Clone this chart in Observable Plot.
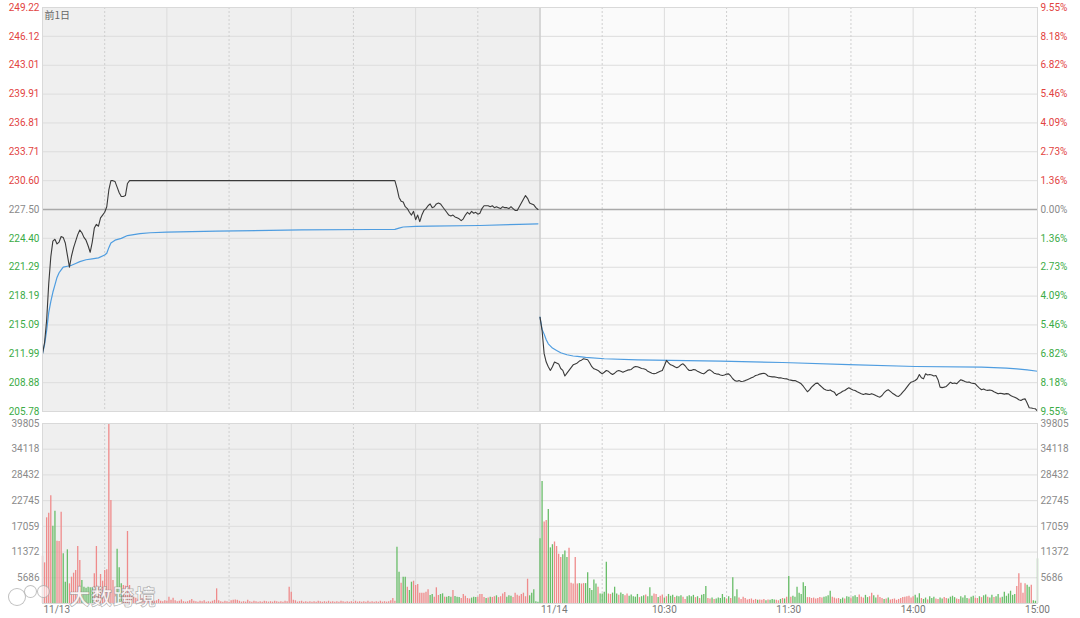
<!DOCTYPE html>
<html><head><meta charset="utf-8">
<script src="https://cdn.jsdelivr.net/npm/d3@7"></script>
<script src="https://cdn.jsdelivr.net/npm/@observablehq/plot@0.6"></script>
<style>
body{margin:0;background:#fff;}
#wrap{position:relative;width:1080px;height:618px;font-family:Roboto,"Noto Sans",sans-serif;overflow:hidden}
#wrap svg{position:absolute;left:0;overflow:visible;background:transparent}
#wm{position:absolute;left:69px;top:580px;font-family:"Noto Sans CJK SC",sans-serif;font-size:21px;font-weight:bold;color:rgba(255,255,255,0.85);-webkit-text-stroke:0.7px rgba(110,110,110,0.55);letter-spacing:1px}
.ring{position:absolute;border:1.5px solid rgba(140,140,140,0.55);border-radius:50%;background:rgba(255,255,255,0.5)}
</style></head><body><div id="wrap"></div>
<script>
// ---------- axis ticks ----------
const prevClose = 227.50;
const priceTicks = [205.78, 208.88, 211.99, 215.09, 218.19, 221.29, 224.40, 227.50, 230.60, 233.71, 236.81, 239.91, 243.01, 246.12, 249.22];
const pctLabels = ["9.55%","8.18%","6.82%","5.46%","4.09%","2.73%","1.36%","0.00%","1.36%","2.73%","4.09%","5.46%","6.82%","8.18%","9.55%"];
const volTicks = [5686, 11372, 17059, 22745, 28432, 34118, 39805];
const dateTicks = [0, 240];
const dateLabels = ["11/13", "11/14"];
const timeTicks = [300, 360, 420, 480];
const timeLabels = ["10:30", "11:30", "14:00", "15:00"];
const gridHour = [60, 120, 180, 300, 360, 420];
const gridHalf = [30, 90, 150, 210, 270, 330, 390, 450];
const dayBreak = [240];
const prevDaySpan = [0, 240];

// ---------- price line: [minute, price] (day 1 = 0..239, day 2 = 240..480) ----------
const day1Price = [[0,211.99],[1,213.2],[2,215.6],[3,219.5],[4,222.4],[5,224.1],[6,224.3],[7,223.8],[8,224.0],[9,224.6],
[10,224.5],[11,223.9],[12,222.6],[13,221.3],[14,222.5],[15,223.4],[16,224.1],[17,224.8],[18,225.3],[19,225.0],
[20,224.5],[21,224.2],[22,223.6],[23,222.9],[24,224.0],[25,225.5],[26,225.9],[27,225.7],[28,226.6],[29,226.9],
[30,227.2],[31,227.8],[32,229.6],[33,230.6],[34,230.6],[35,230.5],[36,229.9],[37,229.3],[38,228.9],[39,228.9],
[40,229.0],[41,230.3],[42,230.6],[170,230.6],[171,229.8],[172,228.8],[173,228.4],[174,228.3],[175,227.8],[176,227.6],
[177,227.2],[178,226.9],[179,227.3],[180,226.4],[181,226.9],[182,226.2],[183,226.9],[184,227.4],[185,227.6],[186,227.9],
[187,228.1],[188,227.7],[189,227.8],[190,228.1],[191,228.2],[192,228.1],[193,227.8],[194,227.5],[195,227.2],[196,226.9],
[197,226.8],[198,226.9],[199,226.7],[200,226.6],[201,226.5],[202,226.3],[203,226.5],[204,226.9],[205,227.2],[206,227.0],
[207,227.3],[208,227.1],[209,227.2],[210,227.0],[211,227.1],[212,227.6],[213,227.9],[214,227.9],[215,227.9],[216,227.8],
[217,227.9],[218,227.7],[219,227.8],[220,227.7],[221,227.6],[222,227.8],[223,227.7],[224,227.7],[225,227.6],[226,227.8],
[227,227.6],[228,227.4],[229,227.4],[230,227.8],[231,228.2],[232,228.6],[233,229.0],[234,228.7],[235,228.2],[236,228.1],
[237,228.0],[238,227.7],[239,227.5]];
const day2Price = [[240,215.92],[241,214.5],[242,212.0],[243,211.1],[244,210.6],[245,210.2],[246,210.6],[247,211.1],[248,211.0],[249,210.9],
[250,210.4],[251,210.2],[252,209.6],[253,209.9],[254,210.2],[255,210.5],[256,210.8],[257,210.9],[258,211.0],[259,211.2],
[260,211.3],[261,211.45],[262,211.4],[263,211.34],[264,211.0],[265,210.6],[266,210.37],[267,210.3],[268,210.2],[269,210.0],
[270,209.83],[271,210.0],[272,210.19],[273,210.1],[274,209.9],[275,209.76],[276,209.9],[277,210.1],[278,210.19],[279,210.1],
[280,210.01],[281,210.1],[282,210.2],[283,210.26],[284,210.3],[285,210.5],[286,210.62],[287,210.6],[288,210.5],[289,210.4],
[290,210.37],[291,210.3],[292,210.1],[293,210.0],[294,209.9],[295,209.83],[296,209.9],[297,210.0],[298,210.1],[299,210.19],
[300,210.7],[301,211.27],[302,211.0],[303,210.8],[304,210.73],[305,210.6],[306,210.48],[307,210.6],[308,210.8],[309,210.91],
[310,210.7],[311,210.4],[312,210.19],[313,210.2],[314,210.3],[315,210.26],[316,210.1],[317,210.0],[318,209.9],[319,209.83],
[320,210.0],[321,210.2],[322,210.26],[323,210.1],[324,209.9],[325,209.83],[326,209.8],[327,209.7],[328,209.65],[329,209.7],
[330,209.8],[331,209.83],[332,209.6],[333,209.3],[334,209.1],[335,209.04],[336,209.1],[337,209.0],[338,209.04],[339,209.1],
[340,209.2],[341,209.29],[342,209.4],[343,209.5],[344,209.65],[345,209.7],[346,209.8],[347,209.85],[348,209.9],[349,209.8],
[350,209.6],[351,209.55],[352,209.5],[353,209.5],[354,209.47],[355,209.4],[356,209.41],[357,209.35],[358,209.3],[359,209.29],
[360,209.2],[361,209.15],[362,209.1],[363,209.12],[364,209.0],[365,208.9],[366,208.76],[367,208.5],[368,208.2],[369,207.9],
[370,208.1],[371,208.4],[372,208.6],[373,208.8],[374,208.83],[375,208.6],[376,208.4],[377,208.2],[378,208.1],[379,208.04],
[380,208.1],[381,207.95],[382,207.86],[383,207.5],[384,207.7],[385,207.8],[386,207.95],[387,208.04],[388,208.2],[389,208.33],
[390,208.2],[391,208.1],[392,208.04],[393,207.9],[394,207.8],[395,207.7],[396,207.61],[397,207.7],[398,207.65],[399,207.6],
[400,207.7],[401,207.61],[402,207.5],[403,207.4],[404,207.32],[405,207.5],[406,207.8],[407,208.0],[408,208.12],[409,207.95],
[410,207.75],[411,207.6],[412,207.45],[413,207.4],[414,207.6],[415,207.86],[416,208.1],[417,208.4],[418,208.7],[419,208.93],
[420,209.0],[421,209.11],[422,209.3],[423,209.76],[424,209.4],[425,209.29],[426,209.83],[427,209.7],[428,209.75],[429,209.7],
[430,209.6],[431,209.65],[432,209.2],[433,208.4],[434,208.35],[435,208.4],[436,208.47],[437,208.7],[438,208.93],[439,208.8],
[440,208.85],[441,208.76],[442,209.0],[443,209.19],[444,209.1],[445,209.0],[446,208.93],[447,208.95],[448,208.85],[449,208.8],
[450,208.76],[451,208.5],[452,208.3],[453,208.12],[454,208.2],[455,208.1],[456,208.05],[457,208.1],[458,208.04],[459,207.9],
[460,207.8],[461,207.68],[462,207.75],[463,207.7],[464,207.65],[465,207.7],[466,207.68],[467,207.5],[468,207.4],[469,207.32],
[470,207.2],[471,207.05],[472,206.96],[473,207.1],[474,207.14],[475,206.7],[476,206.18],[477,206.15],[478,206.1],[479,206.07],[480,205.81]];

// ---------- average price line: [minute, price] ----------
const day1Avg = [[0,211.99],[1,213.0],[2,214.5],[3,216.4],[4,217.6],[5,218.6],[6,219.4],[7,220.2],[8,220.7],[9,221.0],[10,221.3],
[12,221.4],[14,221.5],[16,221.7],[18,221.9],[21,222.1],[24,222.2],[27,222.3],[30,222.6],[31,222.8],[32,223.4],[33,223.9],
[35,224.2],[38,224.4],[41,224.7],[44,224.8],[47,224.9],[52,225.0],[60,225.06],[84,225.17],[125,225.3],[160,225.35],[170,225.36],
[172,225.5],[174,225.62],[180,225.68],[187,225.71],[211,225.78],[230,225.9],[239,225.96]];
const day2Avg = [[240,215.92],[241,214.6],[242,214.1],[243,213.5],[244,213.06],[246,212.6],[248,212.34],[250,212.1],[253,211.88],
[256,211.75],[258,211.7],[262,211.6],[271,211.45],[287,211.34],[303,211.27],[327,211.19],[357,211.05],[389,210.83],[421,210.62],
[453,210.55],[465,210.45],[470,210.37],[475,210.25],[480,210.11]];

// ---------- volume per minute (sign = bar colour: + up/red, - down/green) ----------
const day1Vol = [10460,8990,18950,19970,23810,-17090,-20410,13780,13710,20190,
-10990,-4710,-11870,4350,5820,6700,7300,12600,9510,-5090,
-3600,-3390,-3600,-3470,-3470,6570,12600,3600,6410,4930,
7300,7450,39805,22770,5090,3600,-12010,-7890,-4350,3980,
3830,15920,3980,2140,1400,1170,950,1770,1100,900,
1770,800,600,700,500,600,900,500,400,600,
500,1400,700,1170,600,400,500,800,400,300,
400,600,900,500,400,300,500,400,600,300,
400,300,500,700,3240,600,400,300,500,400,
300,600,700,800,700,500,300,400,300,700,
400,300,500,400,300,400,300,500,400,300,
400,300,500,400,300,400,300,500,400,3600,
2500,700,600,300,400,500,300,400,300,400,
300,400,300,500,400,300,400,300,500,300,
400,300,400,300,500,400,300,400,300,400,
300,500,300,400,300,400,300,500,300,400,
300,400,300,500,300,400,300,400,600,1100,
500,-12450,-6920,4490,-5820,-5820,3600,-2870,-4710,4930,
3980,4200,2280,2280,2280,2500,3030,-1770,-1990,1400,
3470,1770,-1990,-2140,1400,-1400,-1550,-1400,2870,-1550,
-1400,-1300,1100,1990,1600,1100,1000,-1200,-1400,-1300,
1400,1990,1990,1300,-1100,1200,-1400,1300,1500,-1700,
1300,1500,2100,2430,-1400,-1700,-1600,1300,2280,1800,
1600,2000,2280,1500,5370,-1700,-2280,-3030,-400,-300];
const day2Vol = [-14300,-26970,18000,18330,-20780,-12300,-13000,13600,12600,10900,
10200,-10800,-11600,-10200,12200,4500,4300,10200,4300,-4400,
4300,4400,-4400,-6800,-3300,-2870,-5200,-4300,3600,-2100,
-2100,-2500,-9100,2100,2000,-2300,-3600,-2100,1800,-2300,
-2000,1700,2100,-1600,-1900,-1500,-1400,-2000,1300,-1500,
-1700,1900,-1500,-3470,-1600,2100,2000,-1300,1600,1900,
-1200,1500,-2000,-1600,-1800,1300,-1600,-1500,-1700,1400,
900,-1500,-1700,-1500,-1800,1300,-1500,1100,-1800,-2000,
-3760,1100,1000,-1200,900,-1000,-1200,-1100,-1990,-1300,
1000,-1500,1100,-5680,-1500,-3030,1200,900,1400,1100,
800,900,1000,700,900,-700,800,700,900,-600,
800,-700,-900,-800,700,600,-900,1100,-1000,1400,
-5970,1400,-1600,-1400,-3600,-2280,-2000,-4570,-3760,1300,
1300,1100,1200,1000,1100,1300,1200,-1400,-1500,-1700,
-2720,1400,1200,1000,1100,-900,-1200,1000,-1500,-1400,
1200,-1500,-1700,-1300,1900,1400,1200,-1800,-1300,1500,
2280,-1700,-1200,1800,1300,1100,-900,1000,-1200,800,
900,1000,700,900,1100,1300,1400,1500,1600,1200,
1500,-1800,-1200,-2140,1100,-900,-1200,800,-1500,-1100,
-1400,1000,900,-1200,-1000,1300,1100,-1000,-1400,-1600,
-1300,1000,900,-1500,-1200,-1700,-1100,1000,-1400,-1600,
1200,1100,-1500,1300,-1700,-1900,1400,-1200,-1800,1300,
-1500,-2000,1200,-1400,-2500,-1600,-2100,-2720,-1800,-2000,
3760,6560,4490,2280,4350,-4050,-3600,4050,-600,-500,-9880];

// ---------- build ----------
const RED = "#e2433f", GREEN = "#3bab46", GREY = "#8a8a8a";
const BAR_UP = "#ef8b8b", BAR_DN = "#68bd68";
const W = 1080, ML = 42, MR = 43;
const sideColor = v => Math.abs(v - prevClose) < 1e-9 ? GREY : (v > prevClose ? RED : GREEN);

const priceRows = [...day1Price.map(([m,v]) => ({m, v, day: 1})), ...day2Price.map(([m,v]) => ({m, v, day: 2}))];
const avgRows = [...day1Avg.map(([m,v]) => ({m, v, day: 1})), ...day2Avg.map(([m,v]) => ({m, v, day: 2}))];
const volRows = [...day1Vol.map((s,i) => ({m: i, v: Math.abs(s), up: s > 0})), ...day2Vol.map((s,i) => ({m: 240 + i, v: Math.abs(s), up: s > 0}))];
const priceLabelRows = priceTicks.map((v,i) => ({v, pct: pctLabels[i]}));
const dateRows = dateTicks.map((m,i) => ({m, label: dateLabels[i]}));
const timeRows = timeTicks.map((m,i) => ({m, label: timeLabels[i]}));
const pLo = priceTicks[0], pHi = priceTicks[priceTicks.length - 1];
const vHi = volTicks[volTicks.length - 1];

const pricePlot = Plot.plot({
  width: W, height: 416, marginLeft: ML, marginRight: MR, marginTop: 7, marginBottom: 5,
  style: {background: "transparent", fontFamily: "Roboto, sans-serif"},
  x: {domain: [0, 480], axis: null},
  y: {domain: [pLo, pHi], axis: null},
  marks: [
    Plot.frame({fill: "#fafafa", stroke: null}),
    Plot.rect([prevDaySpan], {x1: d => d[0], x2: d => d[1], y1: () => pLo, y2: () => pHi, fill: "#efefef"}),
    Plot.ruleY(priceTicks, {stroke: "#dddddd", strokeWidth: 1}),
    Plot.ruleX(gridHour, {stroke: "#dcdcdc", strokeWidth: 1}),
    Plot.ruleX(gridHalf, {stroke: "#cfcfcf", strokeWidth: 1, strokeDasharray: "2,2"}),
    Plot.ruleX(dayBreak, {stroke: "#cfcfcf", strokeWidth: 1.6}),
    Plot.ruleY([prevClose], {stroke: "#a9a9a9", strokeWidth: 1.6}),
    Plot.line(avgRows, {x: "m", y: "v", z: "day", stroke: "#4f9de0", strokeWidth: 1.2}),
    Plot.line(priceRows, {x: "m", y: "v", z: "day", stroke: "#3a3a3a", strokeWidth: 1.1}),
    Plot.frame({stroke: "#d9d9d9"}),
    Plot.text(priceLabelRows, {y: "v", text: d => d.v.toFixed(2), frameAnchor: "left", dx: -3, textAnchor: "end", fill: d => sideColor(d.v), fontSize: 10}),
    Plot.text(priceLabelRows, {y: "v", text: "pct", frameAnchor: "right", dx: 3, textAnchor: "start", fill: d => sideColor(d.v), fontSize: 10}),
    Plot.text(["前1日"], {frameAnchor: "top-left", dx: 2, dy: 4, fill: "#666", fontSize: 10, fontFamily: "Noto Sans CJK SC, sans-serif"})
  ]
});

const volPlot = Plot.plot({
  width: W, height: 202, marginLeft: ML, marginRight: MR, marginTop: 7, marginBottom: 15,
  style: {background: "transparent", fontFamily: "Roboto, sans-serif"},
  x: {domain: [0, 480], axis: null},
  y: {domain: [0, vHi], axis: null},
  marks: [
    Plot.frame({fill: "#fafafa", stroke: null}),
    Plot.rect([prevDaySpan], {x1: d => d[0], x2: d => d[1], y1: () => 0, y2: () => vHi, fill: "#efefef"}),
    Plot.ruleY(volTicks, {stroke: "#dddddd", strokeWidth: 1}),
    Plot.ruleX(gridHour, {stroke: "#dcdcdc", strokeWidth: 1}),
    Plot.ruleX(gridHalf, {stroke: "#cfcfcf", strokeWidth: 1, strokeDasharray: "2,2"}),
    Plot.ruleX(dayBreak, {stroke: "#cfcfcf", strokeWidth: 1.6}),
    Plot.ruleX(volRows, {x: "m", y: "v", stroke: d => d.up ? BAR_UP : BAR_DN, strokeWidth: 1.3}),
    Plot.frame({stroke: "#d9d9d9"}),
    Plot.text(volTicks, {y: d => d, text: d => String(d), frameAnchor: "left", dx: -3, textAnchor: "end", fill: GREY, fontSize: 10}),
    Plot.text(volTicks, {y: d => d, text: d => String(d), frameAnchor: "right", dx: 3, textAnchor: "start", fill: GREY, fontSize: 10}),
    Plot.text(dateRows, {x: "m", text: "label", frameAnchor: "bottom", lineAnchor: "top", dy: 2, dx: 1, textAnchor: "start", fill: "#777", fontSize: 10}),
    Plot.text(timeRows, {x: "m", text: "label", frameAnchor: "bottom", lineAnchor: "top", dy: 2, textAnchor: "middle", fill: "#777", fontSize: 10})
  ]
});

const wrap = document.getElementById("wrap");
pricePlot.style.top = "0px";
volPlot.style.top = "416px";
wrap.appendChild(pricePlot);
wrap.appendChild(volPlot);
// faint watermark logo (rings) and text
[[8, 588, 16], [24, 585, 11], [37, 585, 11]].forEach(([l, t, s]) => {
  const r = document.createElement("div"); r.className = "ring";
  r.style.left = l + "px"; r.style.top = t + "px"; r.style.width = s + "px"; r.style.height = s + "px";
  wrap.appendChild(r);
});
const wm = document.createElement("div"); wm.id = "wm"; wm.textContent = "大数跨境"; wrap.appendChild(wm);
</script>
</body></html>
